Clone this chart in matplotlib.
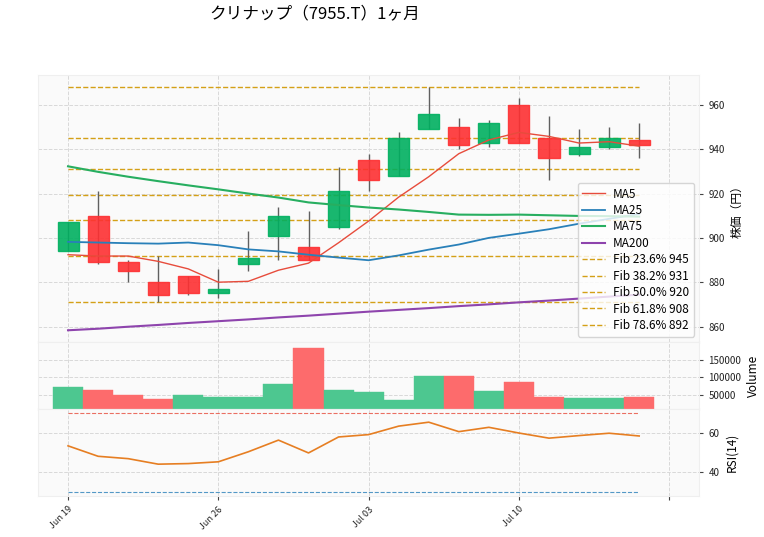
import matplotlib
matplotlib.use("Agg")
import matplotlib.pyplot as plt
import numpy as np

plt.rcParams['font.family'] = ['Noto Sans CJK JP', 'DejaVu Sans']

# daily data (trading days)
dates = ["Jun 19", "Jun 20", "Jun 21", "Jun 22", "Jun 23",
         "Jun 26", "Jun 27", "Jun 28", "Jun 29", "Jun 30",
         "Jul 03", "Jul 04", "Jul 05", "Jul 06", "Jul 07",
         "Jul 10", "Jul 11", "Jul 12", "Jul 13", "Jul 14"]
opens = [894, 910, 889, 880, 883, 875, 888, 901, 896, 905,
         935, 928, 949, 950, 943, 960, 945, 938, 941, 944]
highs = [907, 921, 890, 892, 883, 886, 903, 914, 912, 932,
         938, 948, 968, 954, 953, 963, 955, 949, 950, 952]
lows = [894, 888, 880, 871, 874, 873, 885, 890, 890, 904,
        921, 928, 949, 940, 941, 943, 926, 937, 940, 936]
closes = [907, 889, 885, 874, 875, 877, 891, 910, 890, 921,
          926, 945, 956, 942, 952, 943, 936, 941, 945, 942]
volumes = [72400, 64000, 50000, 38800, 50000, 44400, 44400, 80800, 181800, 64000,
           59000, 34300, 103700, 103700, 62000, 87000, 45400, 42600, 40700, 45400]

ma5 = [892.4, 891.8, 891.8, 889.4, 886.0, 880.0, 880.4, 885.4, 888.6, 897.8,
       907.6, 918.4, 927.6, 938.0, 944.2, 947.6, 945.8, 942.8, 943.4, 941.4]
ma25 = [898.2, 897.9, 897.6, 897.4, 897.9, 896.7, 894.8, 893.9, 892.4, 891.1,
        889.9, 892.1, 894.7, 897.0, 900.0, 901.9, 903.9, 906.4, 908.6, 910.8]
ma75 = [932.3, 929.8, 927.6, 925.6, 923.7, 921.9, 920.0, 918.2, 916.0, 914.8,
        913.7, 912.8, 911.7, 910.5, 910.4, 910.5, 910.2, 909.9, 909.8, 909.6]
ma200 = [858.3, 859.0, 859.9, 860.7, 861.6, 862.4, 863.2, 864.1, 864.9, 865.8,
         866.7, 867.5, 868.3, 869.2, 870.0, 870.9, 871.7, 872.6, 873.5, 874.4]
rsi = [53.3, 48.0, 46.8, 44.0, 44.3, 45.2, 50.3, 56.2, 49.7, 57.8,
       59.0, 63.3, 65.3, 60.5, 62.7, 59.8, 57.2, 58.5, 59.7, 58.3]

fib_ratios = [0.236, 0.382, 0.5, 0.618, 0.786]

x = np.arange(len(dates))
up = np.array(closes) >= np.array(opens)
prev = np.r_[opens[0], closes[:-1]]
vol_up = np.array(closes) >= prev

fig = plt.figure(figsize=(7.64, 5.37), dpi=100)
left, width = 0.0497, 0.8656
ax = fig.add_axes([left, 0.3631, width, 0.4972])
axv = fig.add_axes([left, 0.2384, width, 0.1248], sharex=ax)
axr = fig.add_axes([left, 0.0769, width, 0.1615], sharex=ax)

for a in (ax, axv, axr):
    a.set_facecolor('#fafafa')
    a.grid(True, linestyle='--', color='#d8d8d8', linewidth=0.7)
    a.set_axisbelow(True)
    for s in a.spines.values():
        s.set_color('#efefef')
    a.yaxis.tick_right()
    a.yaxis.set_label_position('right')
    a.tick_params(labelsize=7, length=3, color='#444444', labelcolor='#222222')

# candles
body_col = np.where(up, '#00b060', '#fe3032')
ax.vlines(x, lows, highs, color='#606060', linewidth=1.0, zorder=2)
ax.bar(x, np.abs(np.array(closes) - np.array(opens)),
       bottom=np.minimum(opens, closes), width=0.7,
       color=body_col, edgecolor=body_col, alpha=0.9, zorder=3)

ax.plot(x, ma5, color='#e74c3c', lw=1.0, label='MA5', zorder=4)
ax.plot(x, ma25, color='#2980b9', lw=1.3, label='MA25', zorder=4)
ax.plot(x, ma75, color='#27ae60', lw=1.5, label='MA75', zorder=4)
ax.plot(x, ma200, color='#8e44ad', lw=1.5, label='MA200', zorder=4)

hi, lo = max(highs), min(lows)
fib_col = '#d4a017'
ax.hlines([hi, lo], x[0], x[-1], colors=fib_col, linestyles='--', lw=1.0, zorder=1.5)
for r in fib_ratios:
    lvl = hi - r * (hi - lo)
    ax.hlines(lvl, x[0], x[-1], colors=fib_col, linestyles='--', lw=1.0, zorder=1.5,
              label=f"Fib {r * 100:.1f}% {lvl:.0f}")

ax.set_ylim(853, 973.5)
ax.set_yticks(np.arange(860, 961, 20))
ax.set_ylabel('株価（円）', fontsize=8.5)
ax.legend(loc='upper right', bbox_to_anchor=(0.992, 0.596), borderaxespad=0,
          fontsize=8.5, labelspacing=0.29, handlelength=1.9, handletextpad=0.7,
          borderpad=0.4, framealpha=0.8, edgecolor='#cccccc', fancybox=True)

# volume
vcol = np.where(vol_up, '#4dc790', '#fd6b6c')
axv.bar(x, volumes, width=1.0, color=vcol, edgecolor=vcol, linewidth=0.3)
axv.set_ylim(0.3 * min(volumes), 1.1 * max(volumes))
axv.set_yticks([50000, 100000, 150000])
axv.set_ylabel('Volume', fontsize=8.5)

# rsi
axr.plot(x, rsi, color='#e67e22', lw=1.2)
axr.hlines(70, x[0], x[-1], colors='#e74c3c', linestyles='--', lw=0.8, alpha=0.8)
axr.hlines(30, x[0], x[-1], colors='#2980b9', linestyles='--', lw=0.8, alpha=0.8)
axr.set_ylim(28, 72)
axr.set_yticks([40, 60])
axr.set_ylabel('RSI(14)', fontsize=8.5)

axr.set_xlim(-1, 21)
ticks = [0, 5, 10, 15, 20]
axr.set_xticks(ticks)
axr.set_xticklabels([dates[t] if t < len(dates) else '' for t in ticks],
                    rotation=45, ha='right', rotation_mode='anchor', fontsize=6.5)
plt.setp(ax.get_xticklabels(), visible=False)
plt.setp(axv.get_xticklabels(), visible=False)
ax.tick_params(axis='x', length=0)
axv.tick_params(axis='x', length=0)

fig.suptitle('クリナップ（7955.T）1ヶ月', x=0.412, y=0.974, va='center', fontsize=12)

fig.savefig('out.png', dpi=100)
